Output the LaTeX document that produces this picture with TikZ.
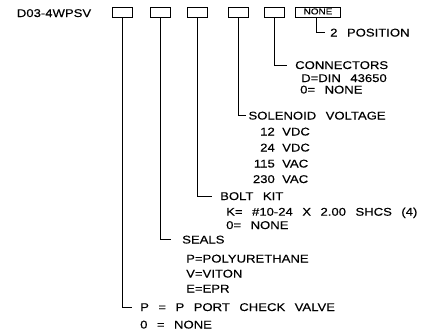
\documentclass[tikz,border=0pt]{standalone}
\usepackage{fontspec}
\setmainfont{Liberation Sans}[FakeStretch=1.17, WordSpace=2.6, FakeBold=0.3]

\tikzset{
  codebox/.style={draw, line width=1pt, minimum width=19.5pt, minimum height=9.3pt, inner sep=0pt},
  lbl/.style={anchor=west, inner sep=0pt, text height=8pt, text depth=0pt},
  numlbl/.style={lbl, anchor=east},
  lead/.style={line width=1pt},
}

\begin{document}
\begin{tikzpicture}[x=1pt, y=-1pt, every node/.style={font=\fontsize{11.2}{13}\selectfont}]
    \useasboundingbox (0,0) rectangle (444,335);

    % Model code and option boxes
    \node[lbl] (model) at (16.7,13) {D03-4WPSV};
    \node[codebox] (b1) at (122.5,12.6) {};
    \node[codebox] (b2) at (160.3,12.6) {};
    \node[codebox] (b3) at (197.3,12.6) {};
    \node[codebox] (b4) at (238.3,12.6) {};
    \node[codebox] (b5) at (274.7,12.6) {};
    \node[codebox, minimum width=45pt, text height=6pt, text depth=2.5pt,
          font=\fontsize{8.5}{8.5}\selectfont] (b6) at (318,12.6) {NONE};

    % Position
    \node[lbl] (pos) at (330,32.5) {2 POSITION};
    \draw[lead] ([xshift=-1.3pt]b6.south) |- ([xshift=-5pt]pos.west);

    % Connectors
    \node[lbl] (conn) at (295,65) {CONNECTORS};
    \node[lbl] (din) at (301,78) {D=DIN 43650};
    \node[lbl] (connno) at (300,89.5) {0= NONE};
    \draw[lead] (b5.south) |- ([xshift=-8pt]conn.west);

    % Solenoid voltage
    \node[lbl] (volt) at (248.3,115.5) {SOLENOID VOLTAGE};
    \node[numlbl] (v1) at (275,131.5) {12};
    \node[lbl] (u1) at (282,131.5) {VDC};
    \node[numlbl] (v2) at (275,147.5) {24};
    \node[lbl] (u2) at (282,147.5) {VDC};
    \node[numlbl] (v3) at (275,163.5) {115};
    \node[lbl] (u3) at (282,163.5) {VAC};
    \node[numlbl] (v4) at (275,179) {230};
    \node[lbl] (u4) at (282,179) {VAC};
    \draw[lead] (b4.south) |- ([xshift=-2pt]volt.west);

    % Bolt kit
    \node[lbl] (bolt) at (220,196) {BOLT KIT};
    \node[lbl] (boltk) at (226,211.7) {K= \#10-24 X 2.00 SHCS (4)};
    \node[lbl] (boltno) at (226,225) {0= NONE};
    \draw[lead] (b3.south) |- ([xshift=-8pt]bolt.west);

    % Seals
    \node[lbl] (seals) at (182,239.5) {SEALS};
    \node[lbl] (sealp) at (186,258.5) {P=POLYURETHANE};
    \node[lbl] (sealv) at (186,273.5) {V=VITON};
    \node[lbl] (seale) at (186,288.5) {E=EPR};
    \draw[lead] (b2.south) |- ([xshift=-11pt]seals.west);

    % Check valve
    \node[lbl] (check) at (140,307) {P = P PORT CHECK VALVE};
    \node[lbl] (checkno) at (140,324.5) {0 = NONE};
    \draw[lead] (b1.south) |- ([xshift=-8pt]check.west);

\end{tikzpicture}
\end{document}
